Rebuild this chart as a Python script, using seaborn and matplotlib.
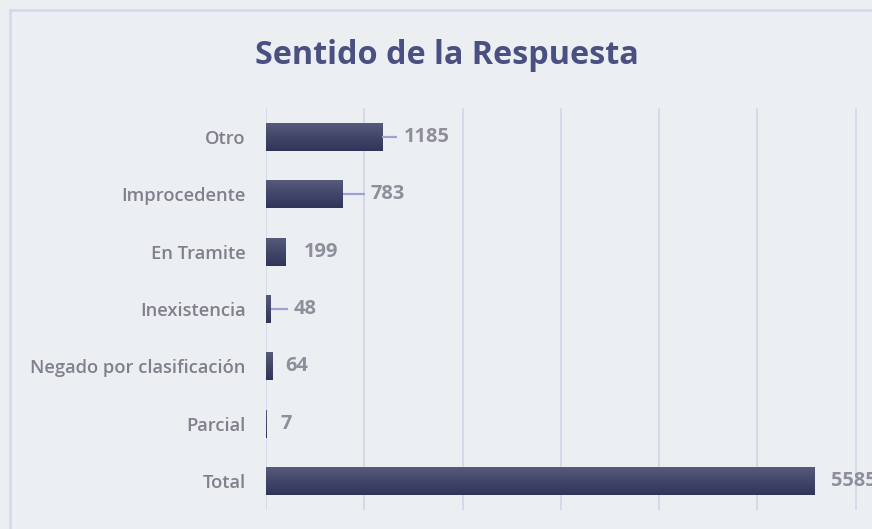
import numpy as np
import pandas as pd
import matplotlib
matplotlib.use('Agg')
import matplotlib.pyplot as plt
import seaborn as sns
from matplotlib.colors import LinearSegmentedColormap
from matplotlib.patches import Rectangle

# data
categories = ['Otro', 'Improcedente', 'En Tramite', 'Inexistencia',
              'Negado por clasificación', 'Parcial', 'Total']
counts = [1185, 783, 199, 48, 64, 7, 5585]
# label placement (pixels right of bar end) and whether Excel drew a leader line
label_gap_px = [21, 28, 18, 23, 13, 14, 16]
leader = [True, True, False, True, False, False, False]

BG = '#eceff1'
GRID = '#d3d7ea'
TEXT = '#7f808c'
VALUE = '#8e8f9c'
TITLE = '#4b5082'

df = pd.DataFrame({'category': categories, 'count': counts})

sns.set_style('white')
plt.rcParams['font.family'] = ['Open Sans', 'DejaVu Sans']

W, H = 872, 529
fig = plt.figure(figsize=(W / 100, H / 100), dpi=100)
fig.patch.set_facecolor(BG)

# chart frame, cut off by the image on right/bottom
fig.patches.append(Rectangle((10 / W, -0.05), 1.2, 1 - 10 / H + 0.05,
                             transform=fig.transFigure, fill=False,
                             edgecolor='#d6d9ee', linewidth=2, zorder=0))

ax = fig.add_axes([266 / W, 19 / H, 688 / W, 402 / H])
ax.set_facecolor(BG)

sns.barplot(data=df, y='category', x='count', order=categories, orient='h',
            color='#3a3f66', width=0.49, ax=ax, zorder=3)

ax.set_xlim(0, 7000)
ax.set_ylim(len(categories) - 0.5, -0.5)
ax.set_xticks(np.arange(0, 7001, 1000))
ax.xaxis.grid(True, color=GRID, linewidth=1.3, zorder=0)
ax.set_axisbelow(True)
ax.set_xticklabels([])
ax.tick_params(axis='both', length=0)
ax.tick_params(axis='y', pad=14.5, labelsize=13.2, labelcolor=TEXT)
for t in ax.get_yticklabels():
    t.set_fontweight('semibold')
ax.set_xlabel('')
ax.set_ylabel('')
for s in ax.spines.values():
    s.set_visible(False)

# vertical gradient on each bar
cmap = LinearSegmentedColormap.from_list('bar', ['#575c7c', '#2f3459'])
grad = np.linspace(0, 1, 64).reshape(-1, 1)
for p in ax.patches:
    x0, y0 = p.get_x(), p.get_y()
    w, h = p.get_width(), p.get_height()
    im = ax.imshow(grad, cmap=cmap, aspect='auto', extent=(x0, x0 + w, y0 + h, y0),
                   zorder=4, interpolation='bicubic')
    im.set_clip_path(p)
    p.set_linewidth(0)
ax.set_xlim(0, 7000)
ax.set_ylim(len(categories) - 0.5, -0.5)

px = 7000 / 688  # data units per pixel
for i, (v, gap, ld) in enumerate(zip(counts, label_gap_px, leader)):
    if ld:
        ax.plot([v, v + (gap - 6) * px], [i, i], color='#9ba3d6', linewidth=1.6,
                zorder=5, solid_capstyle='butt')
    ax.text(v + gap * px, i, str(v), va='center', ha='left', fontsize=14.4,
            fontweight='bold', color=VALUE, zorder=6, clip_on=False)

fig.text(0.512, 1 - 56 / H, 'Sentido de la Respuesta', ha='center', va='center',
         fontsize=23.3, fontweight='bold', color=TITLE)

fig.savefig('out.png', dpi=100, facecolor=BG)
